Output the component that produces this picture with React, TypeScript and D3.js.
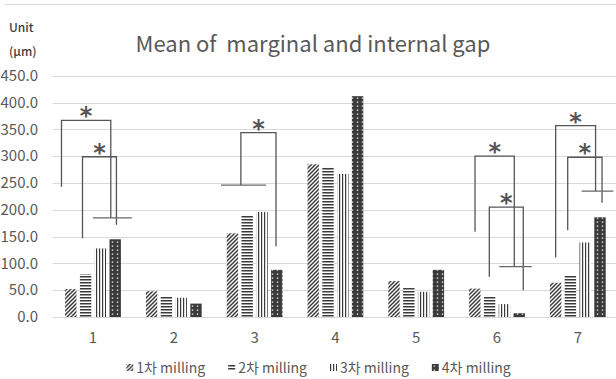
import React, { useRef, useEffect } from "react";
import * as d3 from "d3";

const categories = ["1", "2", "3", "4", "5", "6", "7"];
const seriesNames = ["1차 milling", "2차 milling", "3차 milling", "4차 milling"];
const milling1 = [52, 48, 156, 285, 67, 53, 64];
const milling2 = [80, 39, 190, 280, 54, 39, 78];
const milling3 = [128, 36, 196, 267, 47, 24, 139];
const milling4 = [145, 25, 88, 412, 88, 7, 186];
const yTicks = [0, 50, 100, 150, 200, 250, 300, 350, 400, 450];

// significance brackets: left/right are fractions of the category band, the rest are µm values
const brackets = [
  { cat: "1", left: 0.11, right: 0.72, top: 367, leftEnd: 243, rightEnd: 185 },
  { cat: "1", left: 0.37, right: 0.79, top: 299, leftEnd: 147, rightEnd: 172 },
  { cat: "3", left: 0.33, right: 0.765, top: 344, leftEnd: 246, rightEnd: 132 },
  { cat: "6", left: 0.228, right: 0.714, top: 300, leftEnd: 159, rightEnd: 94 },
  { cat: "6", left: 0.405, right: 0.825, top: 205, leftEnd: 75, rightEnd: 50 },
  { cat: "7", left: 0.226, right: 0.72, top: 357, leftEnd: 111, rightEnd: 235 },
  { cat: "7", left: 0.375, right: 0.8, top: 298, leftEnd: 162, rightEnd: 213 },
];
// short horizontal marks under the brackets
const marks = [
  { cat: "1", from: 0.5, to: 0.98, value: 185 },
  { cat: "3", from: 0.084, to: 0.64, value: 246 },
  { cat: "6", from: 0.528, to: 0.93, value: 94 },
  { cat: "7", from: 0.548, to: 0.94, value: 235 },
];

const seriesValues = [milling1, milling2, milling3, milling4];
const FONT = "'Noto Sans CJK KR', 'Noto Sans', sans-serif";
const TEXT = "#595959";

const App = () => {
  const svgRef = useRef<SVGSVGElement>(null);

  useEffect(() => {
    const svg = d3.select(svgRef.current);
    svg.selectAll("*").remove();

    const x0 = d3.scaleBand().domain(categories).range([52.6, 618.2]);
    const x1 = d3
      .scaleBand<number>()
      .domain(d3.range(seriesNames.length))
      .range([12.5, x0.bandwidth() - 12.5])
      .paddingInner(0.23);
    const y = d3.scaleLinear().domain([0, 450]).range([317, 75.8]);

    // fill patterns, one for each milling
    const defs = svg.append("defs");
    const p0 = defs.append("pattern").attr("id", "pat0").attr("patternUnits", "userSpaceOnUse").attr("width", 4).attr("height", 4);
    p0.append("rect").attr("width", 4).attr("height", 4).attr("fill", "#fff");
    p0.append("path").attr("d", "M-1,1L1,-1M0,4L4,0M3,5L5,3").attr("stroke", "#3a3a3a").attr("stroke-width", 1.5);
    const p1 = defs.append("pattern").attr("id", "pat1").attr("patternUnits", "userSpaceOnUse").attr("width", 4).attr("height", 3);
    p1.append("rect").attr("width", 4).attr("height", 3).attr("fill", "#fff");
    p1.append("rect").attr("width", 4).attr("height", 1.5).attr("fill", "#3a3a3a");
    const p2 = defs.append("pattern").attr("id", "pat2").attr("patternUnits", "userSpaceOnUse").attr("width", 3).attr("height", 4);
    p2.append("rect").attr("width", 3).attr("height", 4).attr("fill", "#fff");
    p2.append("rect").attr("width", 1.2).attr("height", 4).attr("fill", "#3a3a3a");
    const p3 = defs.append("pattern").attr("id", "pat3").attr("patternUnits", "userSpaceOnUse").attr("width", 5).attr("height", 4);
    p3.append("rect").attr("width", 5).attr("height", 4).attr("fill", "#3a3a3a");
    p3.append("rect").attr("x", 1.8).attr("y", 1.4).attr("width", 1.4).attr("height", 1.4).attr("fill", "#e0e0e0");

    // frame top edge
    svg.append("line").attr("x1", 5).attr("x2", 616).attr("y1", 4.5).attr("y2", 4.5).attr("stroke", "#d9d9d9");

    // gridlines
    svg
      .selectAll(".grid")
      .data(yTicks)
      .join("line")
      .attr("class", "grid")
      .attr("x1", 52.6)
      .attr("x2", 616)
      .attr("y1", (d) => Math.round(y(d)) + 0.5)
      .attr("y2", (d) => Math.round(y(d)) + 0.5)
      .attr("stroke", "#d9d9d9")
      .attr("stroke-width", 1);

    // y tick labels
    svg
      .selectAll(".ylab")
      .data(yTicks)
      .join("text")
      .attr("class", "ylab")
      .attr("x", 38)
      .attr("y", (d) => y(d))
      .attr("dy", "0.35em")
      .attr("text-anchor", "end")
      .attr("font-family", FONT)
      .attr("font-size", 15)
      .attr("fill", TEXT)
      .text(d3.format(".1f"));

    // x labels
    svg
      .selectAll(".xlab")
      .data(categories)
      .join("text")
      .attr("class", "xlab")
      .attr("x", (d) => x0(d)! + x0.bandwidth() / 2)
      .attr("y", 338)
      .attr("dy", "0.35em")
      .attr("text-anchor", "middle")
      .attr("font-family", FONT)
      .attr("font-size", 15)
      .attr("fill", TEXT)
      .text((d) => d);

    // bars
    seriesValues.forEach((vals, i) => {
      svg
        .selectAll(".bar" + i)
        .data(categories.map((c, j) => ({ c, v: vals[j] })))
        .join("rect")
        .attr("class", "bar" + i)
        .attr("x", (d) => x0(d.c)! + x1(i)!)
        .attr("width", x1.bandwidth())
        .attr("y", (d) => y(d.v))
        .attr("height", (d) => y(0) - y(d.v))
        .attr("fill", `url(#pat${i})`);
    });

    // significance brackets
    svg
      .selectAll(".bracket")
      .data(brackets)
      .join("path")
      .attr("class", "bracket")
      .attr("d", (d) => {
        const xl = x0(d.cat)! + d.left * x0.bandwidth();
        const xr = x0(d.cat)! + d.right * x0.bandwidth();
        return `M${xl},${y(d.leftEnd)}V${y(d.top)}H${xr}V${y(d.rightEnd)}`;
      })
      .attr("fill", "none")
      .attr("stroke", "#555")
      .attr("stroke-width", 1.3);

    svg
      .selectAll(".mark")
      .data(marks)
      .join("line")
      .attr("class", "mark")
      .attr("x1", (d) => x0(d.cat)! + d.from * x0.bandwidth())
      .attr("x2", (d) => x0(d.cat)! + d.to * x0.bandwidth())
      .attr("y1", (d) => y(d.value))
      .attr("y2", (d) => y(d.value))
      .attr("stroke", "#666")
      .attr("stroke-width", 1.3);

    svg
      .selectAll(".star")
      .data(brackets)
      .join("text")
      .attr("class", "star")
      .attr("x", (d) => x0(d.cat)! + ((d.left + d.right) / 2) * x0.bandwidth())
      .attr("y", (d) => y(d.top) + 4)
      .attr("text-anchor", "middle")
      .attr("font-family", "'DejaVu Sans', sans-serif")
      .attr("font-weight", "bold")
      .attr("font-size", 24)
      .attr("fill", "#555")
      .text("*");

    // title and unit
    svg
      .append("text")
      .attr("x", 313)
      .attr("y", 51.5)
      .attr("text-anchor", "middle")
      .attr("font-family", FONT)
      .attr("font-size", 22)
      .attr("fill", TEXT)
      .style("white-space", "pre")
      .text("Mean of  marginal and internal gap");
    svg.append("text").attr("x", 9).attr("y", 28).attr("dy", "0.35em").attr("font-family", FONT).attr("font-size", 12).attr("font-weight", 500).attr("fill", "#404040").text("Unit");
    svg.append("text").attr("x", 9).attr("y", 52).attr("dy", "0.35em").attr("font-family", FONT).attr("font-size", 12).attr("font-weight", 500).attr("fill", "#404040").text("(μm)");

    // legend
    const legend = svg.append("g");
    const items = legend
      .selectAll(".item")
      .data(seriesNames)
      .join("g")
      .attr("class", "item");
    items.append("rect").attr("y", -4).attr("width", 7).attr("height", 7).attr("fill", (d, i) => `url(#pat${i})`);
    const labels = items
      .append("text")
      .attr("x", 10)
      .attr("dy", "0.35em")
      .attr("font-family", FONT)
      .attr("font-size", 14)
      .attr("fill", TEXT)
      .text((d) => d);
    const widths = labels.nodes().map((n) => (n as SVGTextElement).getComputedTextLength());
    const gap = 23;
    let cx = 0;
    const offsets = widths.map((w) => {
      const o = cx;
      cx += 10 + w + gap;
      return o;
    });
    const total = cx - gap;
    const startX = 318.5 - total / 2;
    items.attr("transform", (d, i) => `translate(${startX + offsets[i]},368)`);
  }, []);

  return (
    <svg
      ref={svgRef}
      width={616}
      height={379}
      style={{ position: "absolute", left: 0, top: 0, background: "#fff" }}
    />
  );
};

export default App;
